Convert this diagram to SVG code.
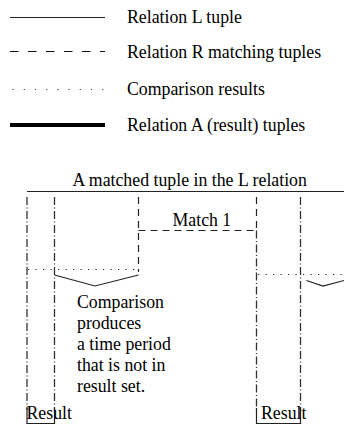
<svg xmlns="http://www.w3.org/2000/svg" width="344" height="425" viewBox="0 0 344 425">
  <style>
    text { font-family: "Liberation Serif", "Times New Roman", serif; font-size: 17.8px; fill: #000; }
    .solid { stroke: #222; stroke-width: 1.2; fill: none; }
    .thick { stroke: #000; stroke-width: 4; fill: none; }
    .dash-leg { stroke: #111; stroke-width: 1.2; stroke-dasharray: 8.5 9.5; fill: none; }
    .dot-leg { stroke: #444; stroke-width: 1.2; stroke-dasharray: 1.2 10; fill: none; }
    .dashdot { stroke: #333; stroke-width: 1.3; stroke-dasharray: 8 2.5 1 2.5; fill: none; }
    .dashed { stroke: #222; stroke-width: 1.2; stroke-dasharray: 7 5; fill: none; }
    .dotted { stroke: #222; stroke-width: 1.2; stroke-dasharray: 1.2 6.3; fill: none; }
  </style>

  <!-- legend -->
  <g id="legend">
    <line class="solid" x1="10" y1="17.5" x2="105" y2="17.5"/>
    <text x="127" y="23">Relation L tuple</text>
    <line class="dash-leg" x1="10" y1="51.5" x2="105" y2="51.5"/>
    <text x="127" y="57.5">Relation R matching tuples</text>
    <line class="dot-leg" x1="12.5" y1="89.5" x2="105" y2="89.5"/>
    <text x="127" y="95">Comparison results</text>
    <line class="thick" x1="10" y1="125" x2="105" y2="125"/>
    <text x="127" y="131">Relation A (result) tuples</text>
  </g>

  <!-- L tuple -->
  <g id="l-tuple">
    <text x="72.5" y="186">A matched tuple in the L relation</text>
    <line class="solid" x1="27" y1="191.5" x2="344" y2="191.5"/>
  </g>

  <!-- R tuple: Match 1 -->
  <g id="match-1">
    <text x="172.5" y="225.5">Match 1</text>
    <line class="dashed" x1="138.5" y1="197" x2="138.5" y2="272"/>
    <line class="dashed" x1="138.5" y1="230.5" x2="256.5" y2="230.5"/>
    <line class="dashed" x1="256.5" y1="197" x2="256.5" y2="230.5"/>
  </g>

  <!-- boundaries and comparisons -->
  <g id="connectors">
    <line class="dashdot" x1="27" y1="197" x2="27" y2="410"/>
    <line class="dashdot" x1="54.5" y1="197" x2="54.5" y2="410"/>
    <line class="dashdot" x1="256.5" y1="230.5" x2="256.5" y2="410"/>
    <line class="dashdot" x1="300.5" y1="197" x2="300.5" y2="410"/>
    <line class="dotted" x1="28" y1="269.5" x2="139" y2="269.5"/>
    <line class="dotted" x1="258" y1="274.5" x2="344" y2="274.5"/>
    <polyline class="solid" points="54.5,275 95,286 138.5,275"/>
    <polyline class="solid" points="306.5,280.5 323,286 344,280.5"/>
  </g>

  <!-- note -->
  <g id="note">
    <text x="77" y="308">Comparison</text>
    <text x="77" y="329">produces</text>
    <text x="77" y="350">a time period</text>
    <text x="77" y="370.5">that is not in</text>
    <text x="77" y="391.5">result set.</text>
  </g>

  <!-- results -->
  <g id="result-left">
    <polyline class="solid" points="27,408 27,423.5 54.5,423.5 54.5,408"/>
    <text x="26.5" y="418.5">Result</text>
  </g>
  <g id="result-right">
    <polyline class="solid" points="256.5,408 256.5,423.5 300.5,423.5 300.5,408"/>
    <text x="261" y="418.5">Result</text>
  </g>
</svg>
